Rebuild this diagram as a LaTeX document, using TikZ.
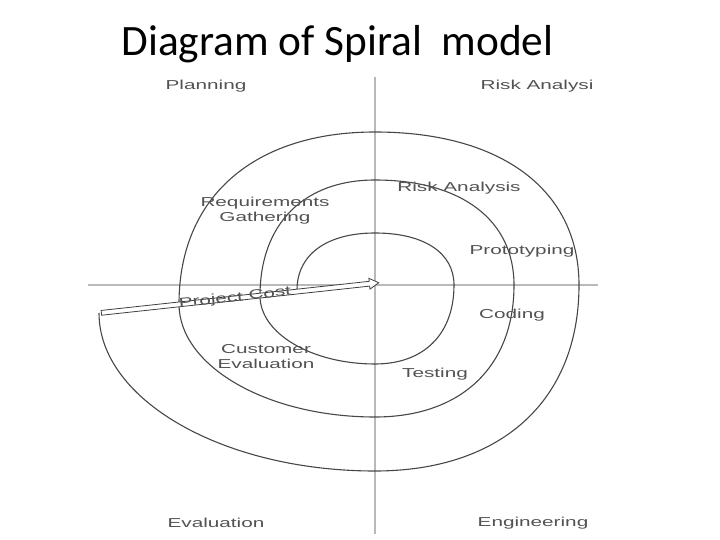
\documentclass[tikz,border=0pt]{standalone}
\usepackage{fontspec}
\usetikzlibrary{arrows.meta, positioning, calc, shapes.arrows}
\newfontfamily\titlefont{Carlito}
\newfontfamily\lblfont{Liberation Sans}

\begin{document}
\begin{tikzpicture}[
    x=1bp, y=-1bp,
    axisline/.style = {draw=gray!55, line width=2.6bp},
    spiral/.style   = {draw=black!72, line width=1.1bp},
    lbl/.style      = {font=\lblfont\fontsize{13}{15}\selectfont, text=black!68,
                       xscale=1.6, inner sep=0pt, align=center},
    costarrow/.style = {single arrow, draw=black!75, line width=0.8bp, fill=white,
                        inner sep=2bp, single arrow head extend=3bp,
                        single arrow tip angle=60, anchor=center},
]

\useasboundingbox (0,0) rectangle (720,540);

%% ---- Axes ----
\def\xV{375}     % vertical axis
\def\yH{285}     % horizontal axis
\coordinate (vtop) at (\xV, 77);
\coordinate (vbot) at (\xV, 534);
\coordinate (hlft) at (88, \yH);
\coordinate (hrgt) at (598, \yH);
\draw[axisline] (vtop) -- (vbot);
\draw[axisline, line width=1.8bp] (hlft) -- (hrgt);

%% ---- Spiral (inner turn out) ----
\draw[spiral] (297,290)
    .. controls (297,254.7) and (326.6,233) .. (\xV,233)
    .. controls (424,233) and (454,252.8) .. (454,\yH)
    .. controls (454,334) and (424,364) .. (\xV,364)
    .. controls (311.7,364) and (260,333.4) .. (260,296)
    .. controls (260,224) and (303.7,180) .. (\xV,180)
    .. controls (461.2,180) and (514,219.9) .. (514,\yH)
    .. controls (514,366.8) and (461.2,417) .. (\xV,417)
    .. controls (267.2,417) and (179,366.2) .. (179,304)
    .. controls (179,197.4) and (253.5,132) .. (\xV,132)
    .. controls (501.5,132) and (579,190.1) .. (579,\yH)
    .. controls (579,400.3) and (501.5,471) .. (\xV,471)
    .. controls (223.2,471) and (99,399.9) .. (99,313);

%% ---- Project cost bar ----
\node[costarrow, minimum height=279bp, rotate=6.2] (cost) at (238,298) {};
\node[rotate=6.2, lbl] (costlbl) at (235,298) {Project Cost};

%% ---- Quadrant labels ----
\node[lbl] (plan) at (206,86)  {Planning};
\node[lbl] (risk) at (537,86)  {Risk Analysi};
\node[lbl] (eval) at (216,523) {Evaluation};
\node[lbl] (engi) at (533,523) {Engineering};

%% ---- Phase labels ----
\node[lbl] (req)   at (265,211) {Requirements\\Gathering};
\node[lbl] (riskA) at (459,188) {Risk Analysis};
\node[lbl] (proto) at (522,251) {Prototyping};
\node[lbl] (code)  at (512,315) {Coding};
\node[lbl] (test)  at (435,374) {Testing};
\node[lbl] (cust)  at (266,357) {Customer\\Evaluation};

%% ---- Title ----
\node[font=\titlefont\fontsize{43.5}{50}\selectfont, anchor=base, inner sep=0pt]
    (title) at (337.5,56) {Diagram of Spiral\ \ model};

\end{tikzpicture}
\end{document}
